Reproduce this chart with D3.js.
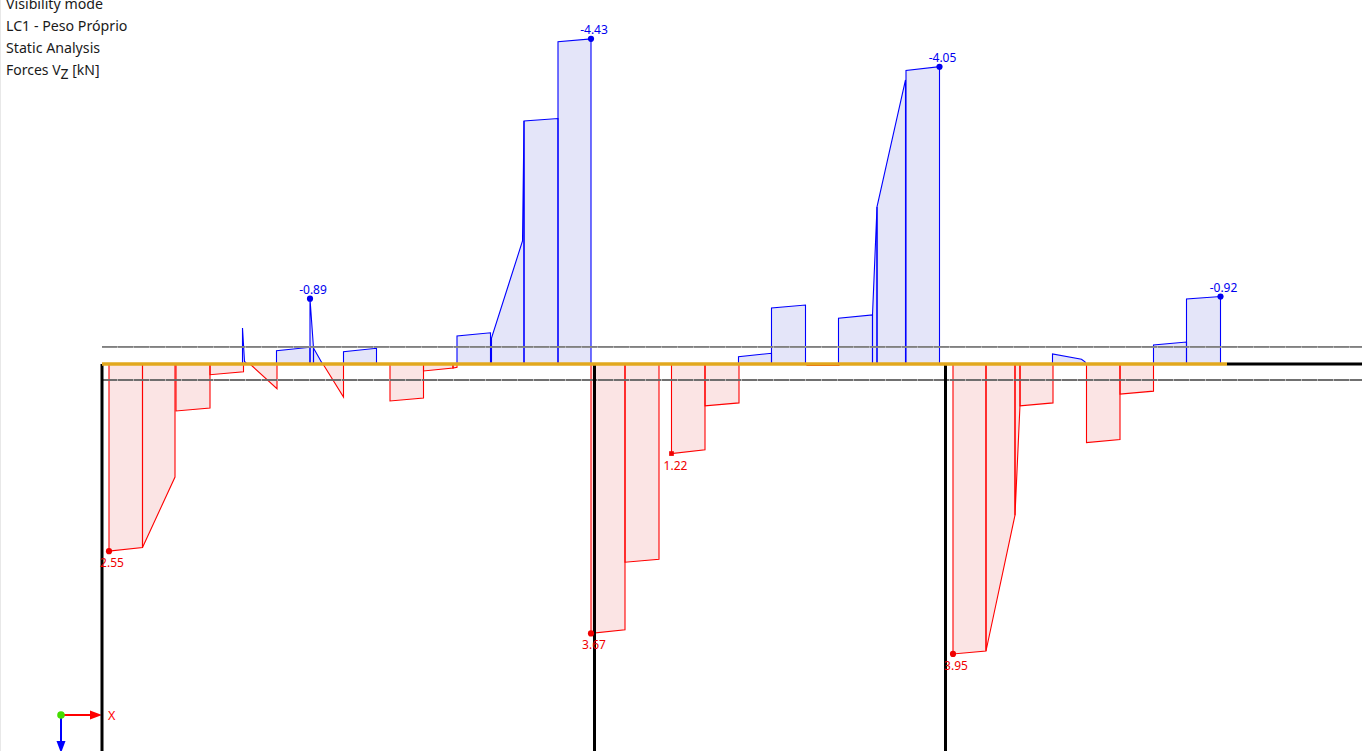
<!DOCTYPE html>
<html>
<head>
<meta charset="utf-8">
<script src="https://cdn.jsdelivr.net/npm/d3@7"></script>
<style>
html,body{margin:0;padding:0;background:#fff;overflow:hidden}
svg{display:block}
text{font-family:"Noto Sans",sans-serif}
</style>
</head>
<body>
<svg id="c" width="1362" height="751"></svg>
<script>
// Header text
const headerLines = ["Visibility mode", "LC1 - Peso Próprio", "Static Analysis"];
const resultLabel = ["Forces V", "Z", " [kN]"];

// Structure: stations along the beam (m) and column positions
const columnsX = [0, 9.85, 16.87];
const memberEndX = 22.5;
const frameEndX = 25.2;
const guideValues = [-0.232, 0.218];

// Positive shear segments: [station, Vz]
const positiveSegments = [
  [[0.14,2.55],[0.81,2.50]],
  [[0.81,2.50],[1.46,1.54]],
  [[1.48,0.64],[2.16,0.60]],
  [[2.16,0.146],[2.83,0.105]],
  [[2.96,0],[3.50,0.337]],
  [[4.42,0],[4.83,0.45]],
  [[5.76,0.504],[6.43,0.463]],
  [[6.43,0.095],[7.02,0.055]],
  [[7.02,0.055],[7.10,0.045]],
  [[9.78,3.67],[10.46,3.62]],
  [[10.46,2.70],[11.14,2.66]],
  [[11.39,1.22],[12.06,1.17]],
  [[12.06,0.57],[12.74,0.53]],
  [[14.10,0.02],[14.74,0.02]],
  [[17.02,3.95],[17.68,3.91]],
  [[17.68,3.91],[18.26,2.06]],
  [[18.26,2.06],[18.36,0.56]],
  [[18.36,0.57],[19.02,0.53]],
  [[19.69,1.07],[20.36,1.03]],
  [[20.36,0.41],[21.03,0.37]]
];

// Negative shear segments: [station, Vz]
const negativeSegments = [
  [[2.81,-0.49],[2.85,-0.034],[2.90,0]],
  [[3.49,-0.18],[4.16,-0.228]],
  [[4.16,-0.89],[4.23,-0.218]],
  [[4.23,-0.218],[4.41,0]],
  [[4.83,-0.168],[5.49,-0.214]],
  [[7.10,-0.381],[7.77,-0.426]],
  [[7.79,-0.354],[8.41,-1.676],[8.44,-3.31]],
  [[8.44,-3.31],[9.12,-3.345]],
  [[9.12,-4.39],[9.78,-4.43]],
  [[12.73,-0.10],[13.39,-0.146]],
  [[13.39,-0.763],[14.07,-0.804]],
  [[14.73,-0.623],[15.41,-0.668]],
  [[15.41,-0.668],[15.50,-2.14]],
  [[15.50,-2.14],[16.07,-3.87]],
  [[16.08,-4.00],[16.75,-4.05]],
  [[19.01,-0.136],[19.59,-0.064],[19.66,-0.03],[19.68,0]],
  [[21.03,-0.259],[21.69,-0.30]],
  [[21.69,-0.886],[22.37,-0.92]]
];

// Extreme-value annotations
const extremes = [
  {x:0.14,  v:2.55,  label:"2.55",  shape:"circle"},
  {x:9.78,  v:3.67,  label:"3.67",  shape:"circle"},
  {x:11.39, v:1.22,  label:"1.22",  shape:"square"},
  {x:17.02, v:3.95,  label:"3.95",  shape:"circle"},
  {x:4.16,  v:-0.89, label:"-0.89", shape:"circle"},
  {x:9.78,  v:-4.43, label:"-4.43", shape:"circle"},
  {x:16.75, v:-4.05, label:"-4.05", shape:"circle"},
  {x:22.37, v:-0.92, label:"-0.92", shape:"circle"}
];

const W = 1362, H = 751;
const x = d3.scaleLinear().domain([0, 1]).range([102, 152]);
const y = d3.scaleLinear().domain([0, 1]).range([364, 437.4]);
const svg = d3.select("#c");

svg.append("rect").attr("width", W).attr("height", H).attr("fill", "#fff");
svg.append("line").attr("x1", 0.5).attr("x2", 0.5).attr("y1", 0).attr("y2", H)
  .attr("stroke", "#e8e8e8");

const closed = seg => [[seg[0][0], 0], ...seg, [seg[seg.length-1][0], 0]];
const path = d3.line().x(d => x(d[0])).y(d => y(d[1]));

function drawSegments(data, fill, stroke) {
  svg.append("g").selectAll("path").data(data).join("path")
    .attr("d", d => path(closed(d)) + "Z")
    .attr("fill", fill).attr("stroke", "none");
  svg.append("g").selectAll("path").data(data).join("path")
    .attr("d", d => path(closed(d)) + "Z")
    .attr("fill", "none").attr("stroke", stroke).attr("stroke-width", 1.1);
}
drawSegments(positiveSegments, "#fbe4e4", "#ff0000");
drawSegments(negativeSegments, "#e4e5f9", "#0000ff");

// Guide lines either side of the member
function guide(v, under, over, w) {
  svg.append("line").attr("x1", x(0)).attr("x2", W)
    .attr("y1", y(v)).attr("y2", y(v))
    .attr("stroke", under).attr("stroke-width", w);
  svg.append("line").attr("x1", x(0)).attr("x2", W)
    .attr("y1", y(v)).attr("y2", y(v))
    .attr("stroke", over).attr("stroke-width", w)
    .attr("stroke-dasharray", "15 1");
}
guide(guideValues[0], "#a8a8a8", "#808080", 1.8);
guide(guideValues[1], "#a0a0a0", "#585858", 1.4);

// Triad
const tx = 61, ty = 715;
svg.append("line").attr("x1", tx).attr("x2", 92).attr("y1", ty).attr("y2", ty)
  .attr("stroke", "#f00").attr("stroke-width", 2);
svg.append("path").attr("d", `M${tx+41},${ty}L${tx+29},${ty-4.5}L${tx+29},${ty+4.5}Z`).attr("fill", "#f00");
svg.append("line").attr("x1", tx).attr("x2", tx).attr("y1", ty).attr("y2", 745)
  .attr("stroke", "#00f").attr("stroke-width", 2);
svg.append("path").attr("d", `M${tx},${H+2}L${tx-4.5},${H-10}L${tx+4.5},${H-10}Z`).attr("fill", "#00f");
svg.append("circle").attr("cx", tx).attr("cy", ty).attr("r", 3.8).attr("fill", "#44dd00");
svg.append("text").attr("x", 108).attr("y", 719.5).attr("fill", "#f00")
  .attr("font-size", 12.5).text("X");

// Columns and member
svg.append("g").selectAll("line").data(columnsX).join("line")
  .attr("x1", d => x(d)).attr("x2", d => x(d))
  .attr("y1", y(0)).attr("y2", H)
  .attr("stroke", "#000").attr("stroke-width", 3);
svg.append("line").attr("x1", x(memberEndX)).attr("x2", x(frameEndX))
  .attr("y1", y(0)).attr("y2", y(0)).attr("stroke", "#000").attr("stroke-width", 3);
svg.append("line").attr("x1", x(0)).attr("x2", x(memberEndX))
  .attr("y1", y(0)).attr("y2", y(0)).attr("stroke", "#e2a81e").attr("stroke-width", 3.7);

// Extreme markers
const colorOf = d => d.v > 0 ? "#f00000" : "#0000f0";
svg.append("g").selectAll("path").data(extremes).join("path")
  .attr("transform", d => `translate(${x(d.x)},${y(d.v)})`)
  .attr("d", d => d3.symbol().type(d.shape === "square" ? d3.symbolSquare : d3.symbolCircle)
    .size(d.shape === "square" ? 22 : 30)())
  .attr("fill", colorOf);
svg.append("g").selectAll("text").data(extremes).join("text")
  .attr("x", d => x(d.x) + (d.shape === "square" ? 4 : 3))
  .attr("y", d => y(d.v) + (d.v > 0 ? 16 : -4.8))
  .attr("text-anchor", "middle").attr("font-size", 12)
  .attr("fill", colorOf).text(d => d.label);

// Header
const hy = [9, 31, 52.5];
svg.append("g").selectAll("text").data(headerLines).join("text")
  .attr("x", 6).attr("y", (d, i) => hy[i]).attr("font-size", 14.2).attr("fill", "#1a1a1a").text(d => d);
const t = svg.append("text").attr("x", 6).attr("y", 74.5).attr("font-size", 14).attr("fill", "#1a1a1a");
t.append("tspan").text(resultLabel[0]);
t.append("tspan").attr("dy", 4).text(resultLabel[1]);
t.append("tspan").attr("dy", -4).text(resultLabel[2]);
</script>
</body>
</html>
